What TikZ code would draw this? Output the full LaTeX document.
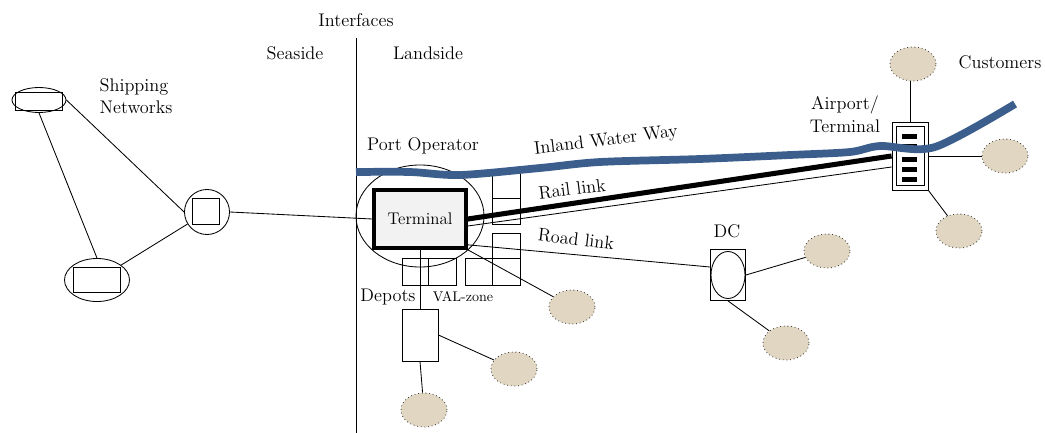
\documentclass[tikz,border=0pt]{standalone}
\usepackage{fontspec}
\usepackage{tikz}
\usetikzlibrary{shapes.geometric,calc}

\definecolor{waterblue}{RGB}{59,94,140}
\definecolor{custfill}{RGB}{224,214,194}

\begin{document}
\begin{tikzpicture}[x=0.025cm,y=-0.025cm,line width=0.6pt,
    lbl/.style={font=\fontsize{13}{16}\selectfont},
    hubshape/.style={ellipse,draw,inner sep=0pt},
    box/.style={rectangle,draw,inner sep=0pt},
    cust/.style={ellipse,draw=black!75,dotted,fill=custfill,minimum width=1.15cm,minimum height=0.85cm,inner sep=0pt},
    water/.style={draw=waterblue,line width=5.5pt}]
  \useasboundingbox (0,0) rectangle (1045,433);

  % Interfaces
  \draw (356,38) -- (356,433);
  \node[lbl] (intf) at (356,20) {Interfaces};
  \node[lbl] (sea) at (295,53) {Seaside};
  \node[lbl] (land) at (428,53) {Landside};

  % Shipping networks
  \node[lbl,align=left] (shipnet) at (136,96) {Shipping\\Networks};
  \node[hubshape,minimum width=1.35cm,minimum height=0.625cm] (ship1) at (39,100) {};
  \node[box,minimum width=1.175cm,minimum height=0.45cm] (ship1box) at (39,101) {};
  \node[hubshape,minimum width=1.625cm,minimum height=1.075cm] (ship2) at (97,280) {};
  \node[box,minimum width=1.175cm,minimum height=0.625cm] (ship2box) at (97,280) {};
  \node[hubshape,minimum width=1.125cm,minimum height=1.125cm] (hub) at (207,212) {};
  \node[box,minimum width=0.675cm,minimum height=0.65cm] (hubbox) at (206,211) {};

  % Port
  \node[hubshape,minimum width=3.2cm,minimum height=2.55cm] (port) at (420,216) {};
  \node[lbl] (portlbl) at (423,146) {Port Operator};
  \node[box,line width=2.6pt,fill=gray!10,minimum width=2.3cm,minimum height=1.45cm,
        font=\fontsize{12}{14}\selectfont] (term) at (420,219) {Terminal};

  % VAL-zone boxes
  \draw (492,172) rectangle (520,198);
  \draw (492,198) rectangle (520,224);
  \draw (492,233) rectangle (520,258);
  \draw (492,258) rectangle (520,285);
  \draw (465,258) rectangle (492,285);
  \draw (402,258) rectangle (428,285);
  \draw (428,258) rectangle (456,285);
  \node[lbl] (depotlbl) at (388,297) {Depots};
  \node[font=\fontsize{10}{12}\selectfont] (vallbl) at (463,297) {VAL-zone};
  \node[box,minimum width=0.9cm,minimum height=1.3cm] (depot) at (420,335) {};

  % DC
  \node[box,minimum width=0.875cm,minimum height=1.275cm] (dc) at (728,275) {};
  \node[hubshape,minimum width=0.85cm,minimum height=1.175cm] (dcin) at (728,275) {};
  \node[lbl] (dclbl) at (727,231) {DC};

  % Airport
  \node[box,fill=white,minimum width=0.9cm,minimum height=1.7cm] (apt) at (910,156) {};
  \node[box,minimum width=0.7cm,minimum height=1.475cm] (aptin) at (910,156) {};
  \foreach \y in {136,146,159,169,179}
    \fill (902,\y-2.5) rectangle (917,\y+2.5);
  \node[lbl,align=center] (aptlbl) at (845,114) {Airport/\\Terminal};

  % Customers
  \node[lbl] (custlbl) at (1000,62) {Customers};
  \node[cust] (c1) at (913,64) {};
  \node[cust] (c2) at (1005,156) {};
  \node[cust] (c3) at (959,231) {};
  \node[cust] (c4) at (827,251) {};
  \node[cust] (c5) at (786,343) {};
  \node[cust] (c6) at (572,307) {};
  \node[cust] (c7) at (514,369) {};
  \node[cust] (c8) at (424,410) {};

  % Links
  \draw (ship1.east) -- (hub.west);
  \draw (ship1.south) -- (ship2.north);
  \draw (ship2) -- (hub);
  \draw (hub.east) -- (term.west);
  \draw (term.south) -- (depot.north);
  \draw (depot.south) -- (c8);
  \draw (depot.east) -- (c7);
  \draw (term.south east) -- (c6);
  \draw ($(term.south east)+(0,-5)$) -- ($(dc.west)+(0,-8)$);
  \draw (dc.east) -- (c4);
  \draw (dc.south) -- (c5);
  \draw (apt.north) -- (apt.north |- c1.south);
  \draw (apt.east) -- (c2);
  \draw (apt.south east) -- (c3);

  % Rail link
  \draw[line width=3.6pt] (term.east) -- (apt.west);
  \draw ($(term.east)+(0,7)$) -- ($(apt.west)+(0,11)$);

  % Inland water way
  \draw[water] plot[smooth,tension=0.5] coordinates {(356,172) (410,172) (460,175) (540,168)
    (600,162) (700,159) (790,155) (850,152) (880,146) (935,147) (1015,104)};

  \node[lbl,rotate=7] (iwwlbl) at (606,141) {Inland Water Way};
  \node[lbl,rotate=7] (raillbl) at (572,189) {Rail link};
  \node[lbl,rotate=-7] (roadlbl) at (576,239) {Road link};
\end{tikzpicture}
\end{document}
